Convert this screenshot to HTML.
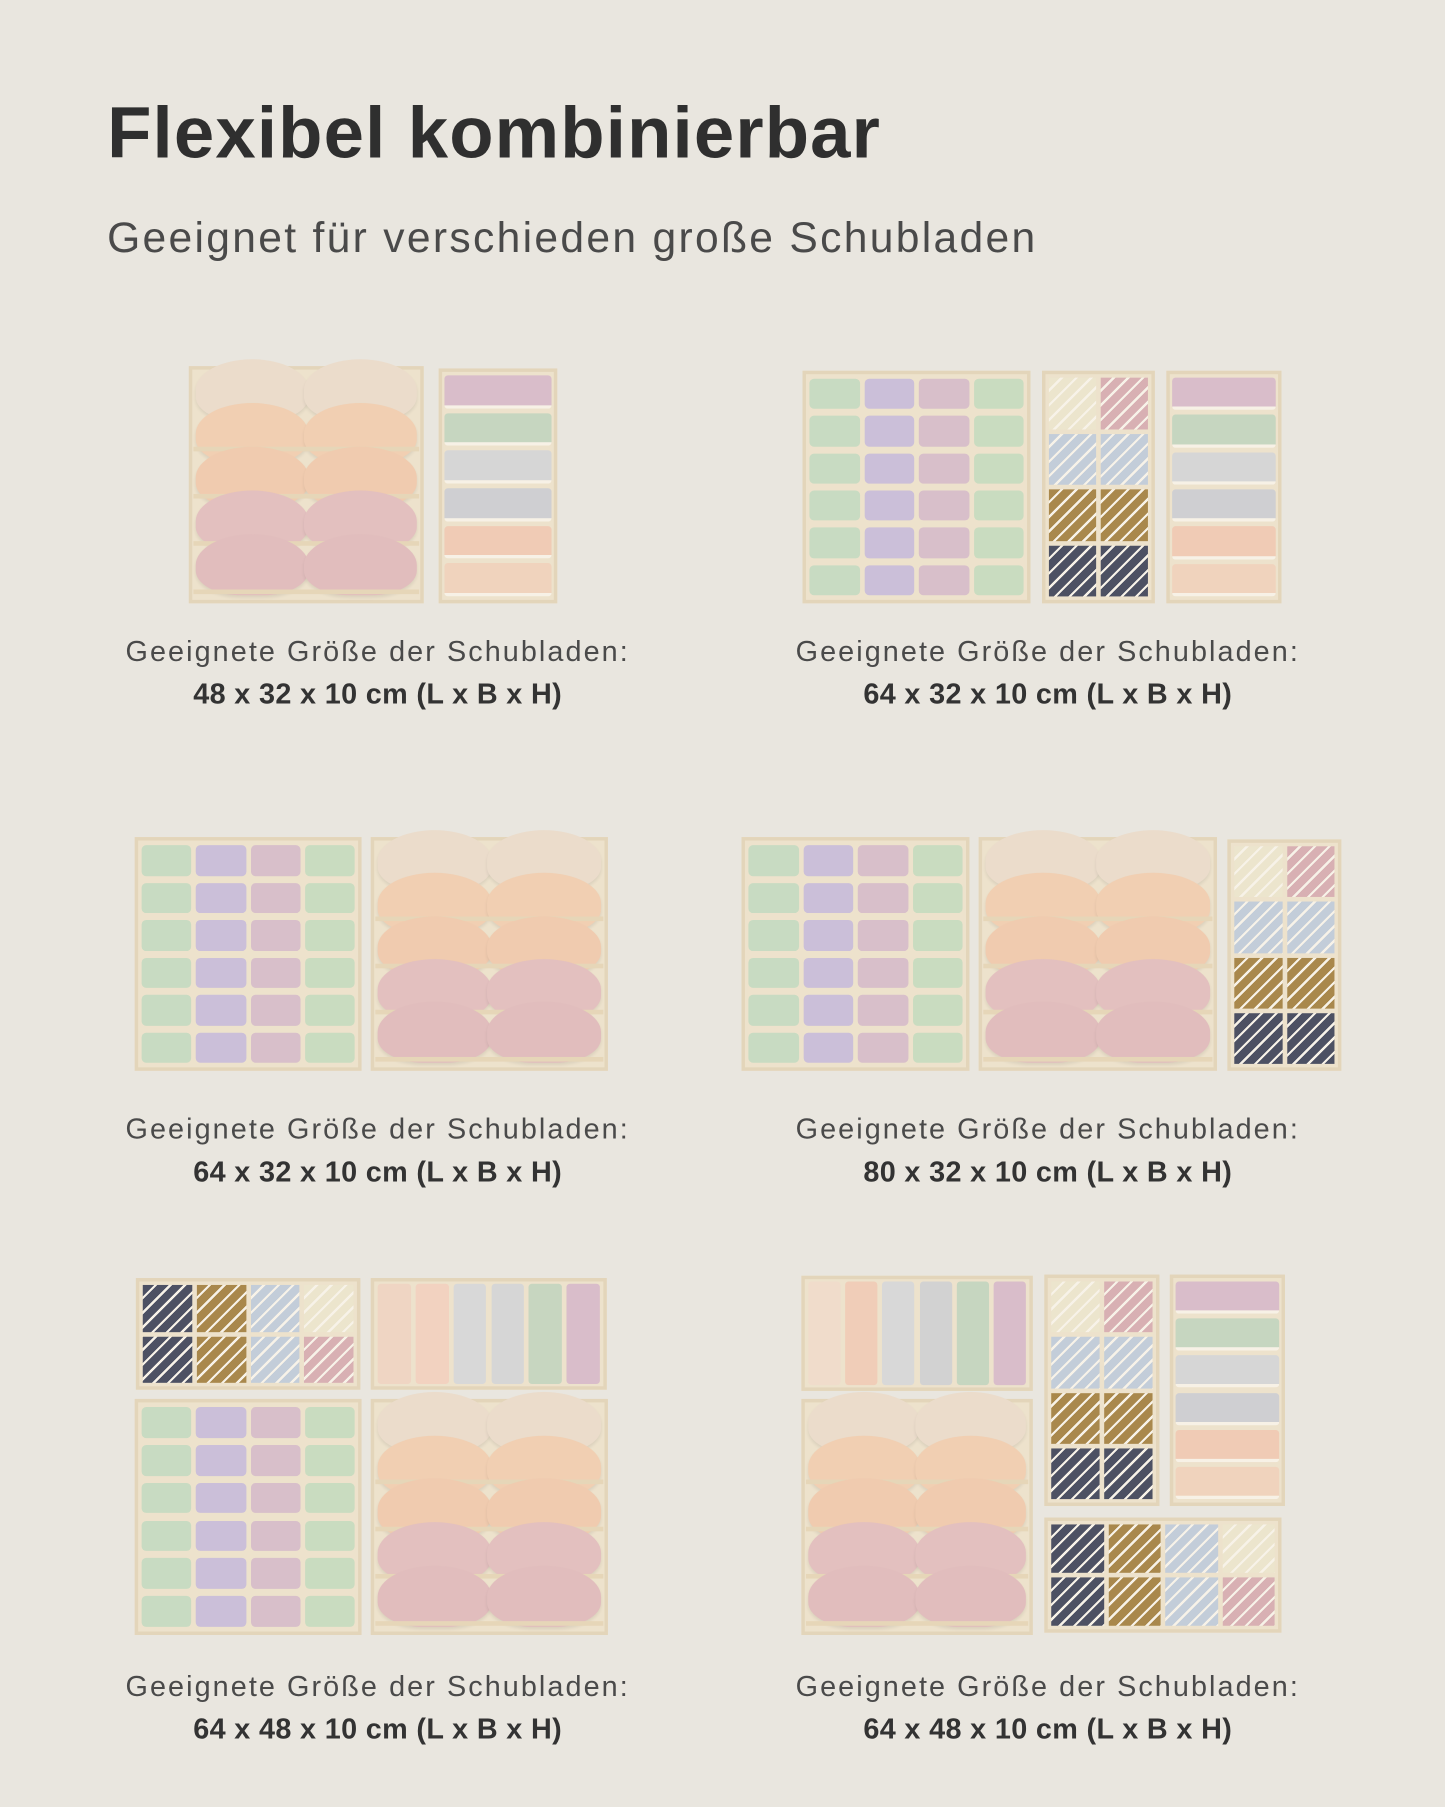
<!DOCTYPE html>
<html><head><meta charset="utf-8">
<style>
html,body{margin:0;padding:0;background:#e9e6df;}
body{width:1445px;height:1806px;overflow:hidden;position:relative;font-family:"Liberation Sans",sans-serif;}
#s{position:absolute;left:0;top:0;width:1255px;height:1569px;transform:scale(1.15139);transform-origin:0 0;}
.a{position:absolute;box-sizing:border-box;}
.t1{position:absolute;left:93px;top:80px;font-size:63px;font-weight:bold;color:#2f2f2f;letter-spacing:1px;white-space:nowrap;}
.t2{position:absolute;left:93px;top:186px;font-size:37px;color:#4a4a4a;letter-spacing:2px;white-space:nowrap;}
.cap{position:absolute;width:600px;text-align:center;font-size:25px;color:#4a4a4a;line-height:37px;}
.cap span{letter-spacing:1.8px;}
.cap b{color:#333;letter-spacing:0.3px;}
</style></head><body><div id="s">
<div class="t1">Flexibel kombinierbar</div>
<div class="t2">Geeignet für verschieden große Schubladen</div>
<div class="cap" style="left:28px;top:548px"><span>Geeignete Größe der Schubladen:</span><br><b>48 x 32 x 10 cm (L x B x H)</b></div>
<div class="cap" style="left:610px;top:548px"><span>Geeignete Größe der Schubladen:</span><br><b>64 x 32 x 10 cm (L x B x H)</b></div>
<div class="cap" style="left:28px;top:963px"><span>Geeignete Größe der Schubladen:</span><br><b>64 x 32 x 10 cm (L x B x H)</b></div>
<div class="cap" style="left:610px;top:963px"><span>Geeignete Größe der Schubladen:</span><br><b>80 x 32 x 10 cm (L x B x H)</b></div>
<div class="cap" style="left:28px;top:1447px"><span>Geeignete Größe der Schubladen:</span><br><b>64 x 48 x 10 cm (L x B x H)</b></div>
<div class="cap" style="left:610px;top:1447px"><span>Geeignete Größe der Schubladen:</span><br><b>64 x 48 x 10 cm (L x B x H)</b></div>
</div>
<script>
var S=document.getElementById('s');
function d(x,y,w,h,st){var e=document.createElement('div');e.className='a';e.style.cssText='left:'+x+'px;top:'+y+'px;width:'+w+'px;height:'+h+'px;'+(st||'');S.appendChild(e);return e;}
function box(x,y,w,h){d(x,y,w,h,'background:#ede2cc;border:3px solid #e3d5ba;');}
function socks(x,y,w,h){box(x,y,w,h);var c=['#c8dbc2','#cbbfd9','#d8bfca','#c9dcc0'];var cw=(w-8)/4,rh=(h-8)/6;
for(var i=0;i<4;i++)for(var j=0;j<6;j++)d(x+4+i*cw+2,y+4+j*rh+3,cw-4,rh-6,'background:'+c[i]+';border-radius:4px;');}
var tc={n:'#4d5163',m:'#a9884c',b:'#c3cdd9',c:'#ece5cd',p:'#d8b0b3'};
function tie(col){return 'background:repeating-linear-gradient(135deg,'+col+' 0 7px,rgba(255,255,255,.55) 7px 9px);';}
function ties(x,y,w,h,cols,rows,pat){box(x,y,w,h);var cw=(w-8)/cols,rh=(h-8)/rows;
for(var j=0;j<rows;j++)for(var i=0;i<cols;i++)d(x+4+i*cw+2,y+4+j*rh+2,cw-4,rh-4,tie(tc[pat[j*cols+i]]));}
function pantsRows(x,y,w,h){box(x,y,w,h);var c=['#d9bdca','#c6d6c0','#d6d6d6','#cfcfd2','#f0cbb5','#f0d3bd'];var rh=(h-8)/6;
for(var j=0;j<6;j++)d(x+5,y+4+j*rh+2,w-10,rh-4,'background:'+c[j]+';border-radius:3px;border-bottom:3px solid #f7f1e6;');}
function pantsCols(x,y,w,h,c){box(x,y,w,h);var cw=(w-8)/6;
for(var i=0;i<6;i++)d(x+4+i*cw+2,y+5,cw-4,h-10,'background:'+c[i]+';border-radius:3px;');}
function bra(x,y,w,h){box(x,y,w,h);var c=['#ebdccb','#f1cfb2','#f0cbaf','#e3c0bf','#e1bdbd'];var rh=h/5;
for(var j=0;j<5;j++){var yy=y+j*rh*0.92-6;
d(x+6,yy,w/2-4,rh*1.3,'background:'+c[j]+';border-radius:50% 50% 40% 40%;box-shadow:0 2px 3px rgba(0,0,0,.08);');
d(x+w/2-2,yy,w/2-4,rh*1.3,'background:'+c[j]+';border-radius:50% 50% 40% 40%;box-shadow:0 2px 3px rgba(0,0,0,.08);');
if(j>0)d(x+4,y+j*rh+rh*0.7,w-8,4,'background:#e6d6b8;');}}
bra(164,318,204,206);pantsRows(381,320,103,204);
socks(697,322,198,202);ties(905,322,98,202,2,4,'cpbbmmnn');pantsRows(1013,322,100,202);
socks(117,727,197,203);bra(322,727,206,203);
socks(644,727,198,203);bra(850,727,207,203);ties(1066,729,99,201,2,4,'cpbbmmnn');
ties(118,1110,195,97,4,2,'nmbcnmbp');pantsCols(322,1110,205,97,['#efd5c3','#f2d2c0','#d8d8d8','#d6d6d6','#c7d6c0','#d9bdca']);
socks(117,1215,197,205);bra(322,1215,206,205);
pantsCols(696,1108,201,100,['#f0dccb','#f0cdb8','#d8d8d8','#d2d2d2','#c6d6c0','#d9bdca']);
bra(696,1215,201,205);ties(907,1107,100,201,2,4,'cpbbmmnn');pantsRows(1016,1107,100,201);
ties(907,1318,206,100,4,2,'nmbcnmbp');
</script>
</body></html>
